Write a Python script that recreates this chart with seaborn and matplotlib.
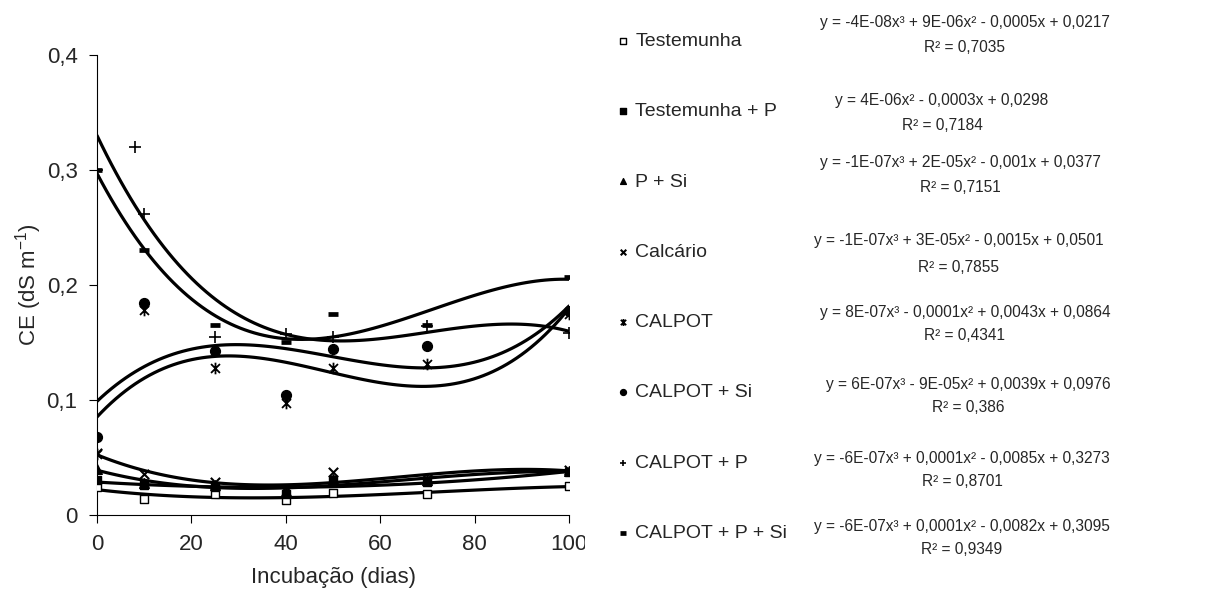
import seaborn as sns
import matplotlib.pyplot as plt
from matplotlib.path import Path
from matplotlib.transforms import Bbox, TransformedBbox

# dias de incubação
dias = [0, 10, 25, 40, 50, 70, 100]
dias_calpot_p = [0, 8, 10, 25, 40, 50, 70, 100]

# CE (dS m-1)
testemunha = [0.024, 0.014, 0.018, 0.013, 0.019, 0.018, 0.025]
testemunha_p = [0.030, 0.026, 0.024, 0.018, 0.030, 0.029, 0.037]
p_si = [0.040, 0.028, 0.026, 0.019, 0.031, 0.030, 0.038]
calcario = [0.054, 0.036, 0.029, 0.021, 0.037, 0.031, 0.039]
calpot = [0.053, 0.178, 0.128, 0.097, 0.128, 0.131, 0.175]
calpot_si = [0.068, 0.184, 0.143, 0.104, 0.144, 0.147, 0.177]
calpot_p = [0.300, 0.320, 0.262, 0.155, 0.157, 0.155, 0.164, 0.158]
calpot_p_si = [0.300, 0.230, 0.165, 0.150, 0.175, 0.165, 0.207]

tratamentos = ["Testemunha", "Testemunha + P", "P + Si", "Calcário",
               "CALPOT", "CALPOT + Si", "CALPOT + P", "CALPOT + P + Si"]

equacoes = [
    "y = -4E-08x³ + 9E-06x² - 0,0005x + 0,0217",
    "y = 4E-06x² - 0,0003x + 0,0298",
    "y = -1E-07x³ + 2E-05x² - 0,001x + 0,0377",
    "y = -1E-07x³ + 3E-05x² - 0,0015x + 0,0501",
    "y = 8E-07x³ - 0,0001x² + 0,0043x + 0,0864",
    "y = 6E-07x³ - 9E-05x² + 0,0039x + 0,0976",
    "y = -6E-07x³ + 0,0001x² - 0,0085x + 0,3273",
    "y = -6E-07x³ + 0,0001x² - 0,0082x + 0,3095",
]
r2 = ["R² = 0,7035", "R² = 0,7184", "R² = 0,7151", "R² = 0,7855",
      "R² = 0,4341", "R² = 0,386", "R² = 0,8701", "R² = 0,9349"]

sns.set_style("ticks")
plt.rcParams['font.family'] = ['Liberation Sans', 'DejaVu Sans']
plt.rcParams['mathtext.fontset'] = 'custom'
plt.rcParams['mathtext.rm'] = 'Liberation Sans'
plt.rcParams['mathtext.it'] = 'Liberation Sans:italic'

# asterisco estilo Excel (x com traço vertical)
asterisco = Path([(-1, -1), (1, 1), (-1, 1), (1, -1), (0, -1.3), (0, 1.3)],
                 [Path.MOVETO, Path.LINETO] * 3)

series = [
    (dias, testemunha, 3, "s", dict(s=38, facecolors="white", linewidths=1.0)),
    (dias, testemunha_p, 2, "s", dict(s=38, linewidths=1.0)),
    (dias, p_si, 3, "^", dict(s=48, linewidths=1.0)),
    (dias, calcario, 3, "x", dict(s=45, linewidths=1.5)),
    (dias, calpot, 3, asterisco, dict(s=70, linewidths=1.3)),
    (dias, calpot_si, 3, "o", dict(s=50, linewidths=1.0)),
    (dias_calpot_p, calpot_p, 3, "+", dict(s=70, linewidths=1.2)),
    (dias, calpot_p_si, 3, "_", dict(s=45, linewidths=3.4)),
]

fig = plt.figure(figsize=(12.11, 6.13), dpi=100)
ax = fig.add_axes([0.0801, 0.1599, 0.3898, 0.7504])

for (x, y, ordem, marcador, kws), nome in zip(series, tratamentos):
    kws = dict(kws, alpha=1, zorder=3)
    sns.regplot(x=x, y=y, order=ordem, ci=None, color="black", ax=ax,
                marker=marcador, label=nome, scatter_kws=kws,
                line_kws=dict(lw=2.3, color="black", zorder=2))

ax.set_xlim(0, 100)
ax.set_ylim(0, 0.4)
ax.set_xticks([0, 20, 40, 60, 80, 100])
ax.set_yticks([0, 0.1, 0.2, 0.3, 0.4])
ax.set_yticklabels(["0", "0,1", "0,2", "0,3", "0,4"])
ax.tick_params(axis="both", labelsize=16, length=6, width=0.8, color="black", pad=8)
for s in ["left", "bottom"]:
    ax.spines[s].set_linewidth(0.8)
    ax.spines[s].set_color("black")
sns.despine(ax=ax)
ax.set_xlabel("Incubação (dias)", fontsize=16, labelpad=8)
ax.set_ylabel(r"CE (dS m$^{-1}$)", fontsize=16, labelpad=2)

# o "100" aparece cortado no original
corte = TransformedBbox(Bbox([[0, 0], [585 / 1211, 1]]), fig.transFigure)
lbl = ax.get_xticklabels()[-1]
lbl.set_clip_box(corte)
lbl.set_clip_on(True)

handles, labels = ax.get_legend_handles_labels()
fig.legend(handles, labels, loc="upper left", bbox_to_anchor=(0.502, 0.960),
           frameon=False, labelspacing=2.71, handlelength=0.8,
           handletextpad=0.2, markerscale=0.6, borderaxespad=0,
           prop={"size": 14})

centros = [965, 942, 960, 959, 965, 968, 962, 962]
y_eq = [22, 100, 162, 240, 312, 385, 458, 527]
y_r2 = [48, 125, 187, 267, 335, 408, 482, 550]
for eq, rr, cx, ye, yr in zip(equacoes, r2, centros, y_eq, y_r2):
    fig.text(cx / 1211, 1 - ye / 613, eq, ha="center", va="center", fontsize=11.2)
    fig.text(cx / 1211, 1 - yr / 613, rr, ha="center", va="center", fontsize=11.2)

plt.savefig("out.png", dpi=100)
